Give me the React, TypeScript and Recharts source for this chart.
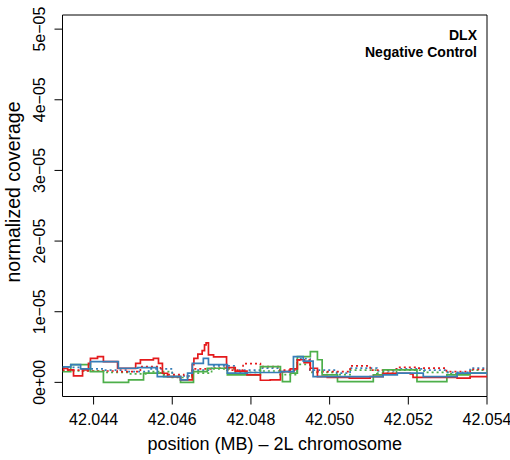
import React from "react";
import { LineChart, Line, XAxis, YAxis, ReferenceArea, Customized } from "recharts";

// coverage values are in units of 1e-6
const xTicks = [42.044, 42.046, 42.048, 42.05, 42.052, 42.054];
const yTicks = [0, 10, 20, 30, 40, 50];
const yTickLabels = ["0e+00", "1e\u221205", "2e\u221205", "3e\u221205", "4e\u221205", "5e\u221205"];

const redSolidPos = [42.04321, 42.04334, 42.04349, 42.04372, 42.04387, 42.04392, 42.0441, 42.04425, 42.04461, 42.04507, 42.04519, 42.04552, 42.04565, 42.04575, 42.04588, 42.04621, 42.04651, 42.04655, 42.04665, 42.04676, 42.04682, 42.04686, 42.04692, 42.04705, 42.04738, 42.0476, 42.0479, 42.04824, 42.04849, 42.04875, 42.049, 42.04918, 42.04935, 42.04951, 42.04969, 42.04994, 42.0505, 42.05103, 42.05136, 42.05205, 42.05212, 42.05324, 42.05357, 42.054];
const redSolidCov = [1.99, 1.76, 0.91, 1.76, 2.7, 3.41, 3.65, 2.94, 1.99, 2.7, 3.18, 3.41, 2.7, 1.29, 0.82, 0.35, 2.5, 3.4, 4.0, 4.5, 5.3, 5.6, 3.9, 3.6, 2.1, 1.6, 1.05, 0.3, 0.34, 1.52, 1.9, 3.2, 2.8, 2.0, 0.8, 0.7, 0.6, 0.8, 1.29, 1.2, 0.7, 0.6, 0.8, 0.8];

const blueSolidPos = [42.04321, 42.04342, 42.04367, 42.04392, 42.04463, 42.04512, 42.04562, 42.04621, 42.04639, 42.04651, 42.04679, 42.04692, 42.0474, 42.04791, 42.04875, 42.04908, 42.04933, 42.04958, 42.05136, 42.05172, 42.05238, 42.05324, 42.054];
const blueSolidCov = [2.2, 2.5, 1.9, 2.94, 2.0, 2.1, 0.8, 0.35, 1.3, 2.7, 3.41, 2.5, 1.3, 1.4, 1.52, 3.64, 3.0, 0.8, 1.05, 1.3, 0.8, 1.3, 1.3];

const greenSolidPos = [42.04321, 42.04342, 42.04392, 42.04425, 42.04489, 42.04527, 42.04578, 42.04621, 42.04654, 42.04689, 42.0474, 42.04824, 42.04857, 42.04875, 42.0488, 42.049, 42.04918, 42.04951, 42.04969, 42.04981, 42.0502, 42.05111, 42.05136, 42.05222, 42.05298, 42.05357, 42.054];
const greenSolidCov = [1.5, 2.5, 1.52, 0.0, 0.35, 1.3, 0.8, 0.0, 1.52, 2.0, 1.05, 2.23, 2.23, 1.5, 0.1, 1.3, 3.65, 4.35, 3.2, 1.05, 0.1, 1.05, 1.76, 0.1, 1.05, 1.3, 1.3];

const redDotPos = [42.04321, 42.04367, 42.044, 42.0446, 42.04519, 42.0457, 42.04629, 42.0465, 42.047, 42.04739, 42.0478, 42.04824, 42.04874, 42.04917, 42.0495, 42.05018, 42.05052, 42.05103, 42.0517, 42.05221, 42.05297, 42.05357, 42.054];
const redDotCov = [1.72, 1.61, 1.61, 1.51, 2.23, 1.1, 0.9, 1.92, 2.02, 1.72, 2.64, 2.23, 1.72, 3.15, 1.51, 1.51, 2.33, 1.72, 2.13, 2.02, 1.51, 1.82, 1.92];

const blueDotPos = [42.04321, 42.04367, 42.04426, 42.0449, 42.0454, 42.046, 42.0465, 42.047, 42.0476, 42.04824, 42.04874, 42.04917, 42.0495, 42.05018, 42.05052, 42.0512, 42.0517, 42.0524, 42.053, 42.05357, 42.054];
const blueDotCov = [2.13, 1.92, 1.72, 1.51, 1.92, 0.9, 1.72, 2.33, 1.72, 2.02, 1.51, 3.36, 1.72, 1.31, 2.02, 1.61, 1.92, 1.72, 1.41, 2.02, 1.92];

const greenDotPos = [42.04321, 42.04367, 42.04426, 42.0449, 42.0454, 42.046, 42.0465, 42.047, 42.0476, 42.04824, 42.04874, 42.04917, 42.0495, 42.05018, 42.05052, 42.0512, 42.0517, 42.0524, 42.053, 42.05357, 42.054];
const greenDotCov = [1.61, 1.61, 1.41, 1.2, 1.51, 0.69, 1.31, 1.92, 1.41, 1.61, 1.1, 2.54, 1.41, 1.1, 1.72, 1.31, 1.72, 1.41, 1.2, 1.72, 1.72];

const toPoints = (pos: number[], cov: number[]) => pos.map((x, i) => ({ x, v: cov[i] }));

const RED = "#E41A1C";
const BLUE = "#377EB8";
const GREEN = "#4DAF4A";
const FONT = "'Liberation Sans', Arial, sans-serif";

const xMin = 42.04321;
const xMax = 42.054;
const yMin = -2;
const yMax = 52;

const XTick = (props: any) => {
  const { x, y, payload } = props;
  return (
    <text x={x} y={y} dy="0.71em" textAnchor="middle" fontSize={16} fontFamily={FONT} fill="#000">
      {payload.value.toFixed(3)}
    </text>
  );
};

const YTick = (props: any) => {
  const { x, y, payload } = props;
  const i = yTicks.indexOf(payload.value);
  return (
    <text x={x} y={y} transform={`rotate(-90, ${x}, ${y})`} textAnchor="middle" fontSize={16} fontFamily={FONT} fill="#000">
      {yTickLabels[i]}
    </text>
  );
};

const Annotations = () => (
  <g fontFamily={FONT} fill="#000">
    <text x={477} y={40} textAnchor="end" fontSize={14} fontWeight="bold">DLX</text>
    <text x={477} y={57} textAnchor="end" fontSize={14} fontWeight="bold">Negative Control</text>
    <text x={274.75} y={450} textAnchor="middle" fontSize={18}>position (MB) {"\u2013"} 2L chromosome</text>
    <text x={19.5} y={192} transform="rotate(-90, 19.5, 192)" textAnchor="middle" fontSize={19.5}>normalized coverage</text>
  </g>
);

const lineProps = { dataKey: "v", type: "stepAfter" as const, strokeWidth: 1.7, dot: false, isAnimationActive: false };

export default function App() {
  return (
    <div style={{ position: "absolute", left: 0, top: 0, background: "#fff" }}>
      <LineChart width={510} height={460} margin={{ top: 15, right: 23, bottom: 0, left: 0 }}>
        <XAxis
          type="number"
          dataKey="x"
          domain={[xMin, xMax]}
          ticks={xTicks}
          allowDataOverflow
          height={63.5}
          axisLine={false}
          tickLine={{ stroke: "#000" }}
          tickSize={8}
          tickMargin={9}
          tick={<XTick />}
        />
        <YAxis
          type="number"
          dataKey="v"
          domain={[yMin, yMax]}
          ticks={yTicks}
          allowDataOverflow
          width={62.5}
          axisLine={false}
          tickLine={{ stroke: "#000" }}
          tickSize={8}
          tickMargin={9.5}
          tick={<YTick />}
        />
        <Line {...lineProps} data={toPoints(greenDotPos, greenDotCov)} stroke={GREEN} strokeDasharray="2 3" />
        <Line {...lineProps} data={toPoints(blueDotPos, blueDotCov)} stroke={BLUE} strokeDasharray="2 3" />
        <Line {...lineProps} data={toPoints(redDotPos, redDotCov)} stroke={RED} strokeDasharray="2 3" />
        <Line {...lineProps} data={toPoints(greenSolidPos, greenSolidCov)} stroke={GREEN} />
        <Line {...lineProps} data={toPoints(redSolidPos, redSolidCov)} stroke={RED} />
        <Line {...lineProps} data={toPoints(blueSolidPos, blueSolidCov)} stroke={BLUE} />
        <ReferenceArea x1={xMin} x2={xMax} y1={yMin} y2={yMax} fill="none" stroke="#000" strokeWidth={1} />
        <Customized component={Annotations} />
      </LineChart>
    </div>
  );
}
